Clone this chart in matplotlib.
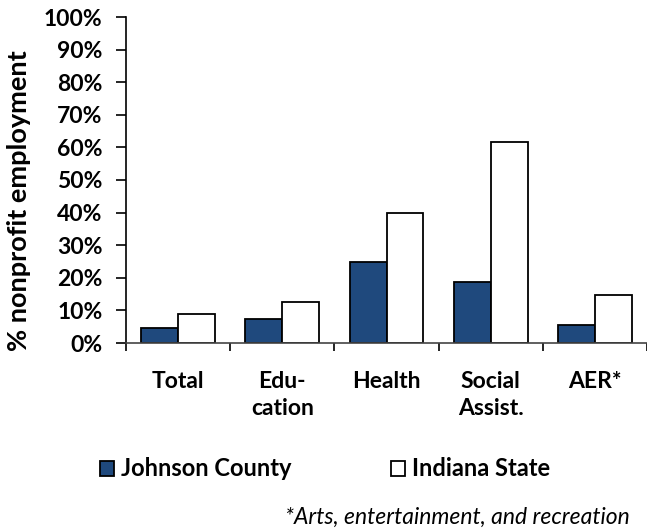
import numpy as np
import matplotlib.pyplot as plt

# valores
categorias = ['Total', 'Edu-\ncation', 'Health', 'Social\nAssist.', 'AER*']
johnson = [4.7, 7.5, 25.0, 18.6, 5.5]
indiana = [9.0, 12.7, 40.0, 61.8, 14.8]
yticks = list(range(0, 101, 10))

plt.rcParams['font.family'] = ['Lato', 'DejaVu Sans']

fig = plt.figure(figsize=(6.47, 5.31), dpi=100)
ax = fig.add_axes([126/647, 1 - 343/531, 1 - 126/647, (343 - 17)/531])

x = np.arange(len(categorias))
w = 0.355
ax.bar(x - w/2, johnson, w, color='#1F497D', edgecolor='black', linewidth=1.3, label='Johnson County')
ax.bar(x + w/2, indiana, w, color='white', edgecolor='black', linewidth=1.3, label='Indiana State')

ax.set_xlim(-0.5, len(categorias) - 0.5)
ax.set_ylim(0, 100)
ax.set_yticks(yticks)
ax.set_yticklabels([f'{v}%' for v in yticks], fontsize=16.5, fontweight='bold')
ax.set_xticks(x)
ax.set_xticklabels(categorias, fontsize=16.5, fontweight='bold', linespacing=1.35)
ax.tick_params(axis='x', which='major', length=0, pad=20)
ax.set_xticks(np.arange(-0.5, len(categorias), 1.0), minor=True)
ax.tick_params(axis='x', which='minor', length=6, width=1.2, direction='out')
ax.tick_params(axis='y', length=7, width=1.2, direction='out', pad=10)

for s in ['top', 'right']:
    ax.spines[s].set_visible(False)
ax.spines['left'].set_linewidth(1.2)
ax.spines['bottom'].set_linewidth(1.2)
ax.spines['bottom'].set_color('#444444')

fig.text(19/647, 1 - 201/531, '% nonprofit employment', rotation=90, ha='center', va='center',
         fontsize=19.5, fontweight='bold')

ax.legend(loc='center left', bbox_to_anchor=(100/647, 1 - 469/531), bbox_transform=fig.transFigure,
          ncol=2, frameon=False, prop={'size': 17, 'weight': 'bold'}, handlelength=0.6, handleheight=0.6,
          handletextpad=0.3, columnspacing=4.2, borderpad=0, borderaxespad=0)

fig.text(630/647, 1 - 517/531, '*Arts, entertainment, and recreation', ha='right', va='center',
         fontsize=16.5, style='italic')

fig.savefig('out.png', dpi=100)
